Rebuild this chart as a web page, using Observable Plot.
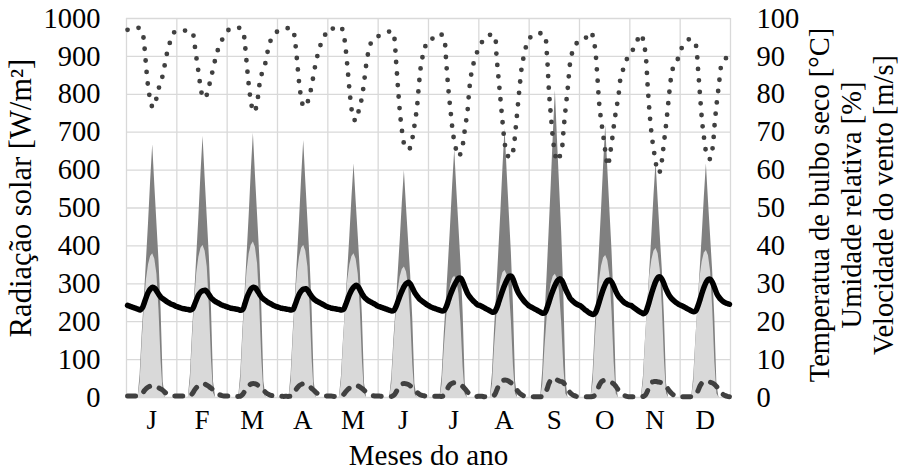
<!DOCTYPE html>
<html><head><meta charset="utf-8">
<script src="https://cdn.jsdelivr.net/npm/d3@7"></script>
<script src="https://cdn.jsdelivr.net/npm/@observablehq/plot@0.6"></script>
<style>
body{margin:0;background:#fff}
svg, svg text{font-family:"Liberation Serif","Times New Roman",serif !important;}
</style>
</head><body><div id="chart"></div>
<script>
const months = ["J","F","M","A","M","J","J","A","S","O","N","D"];
const leftTicks = [0,100,200,300,400,500,600,700,800,900,1000];
const rightTicks = [0,10,20,30,40,50,60,70,80,90,100];
const leftTitle = "Radiação solar [W/m²]";
const rightTitle = "Temperatua de bulbo seco [°C]\nUmidade relativa [%]\nVelocidade do vento [m/s]";
const xTitle = "Meses do ano";

// hourly profiles (hours 0..23) per month
const radGlobal = [
 [0,0,0,0,0,0,60,170,260,360,460,570,667,560,460,360,230,40,0,0,0,0,0,0],
 [0,0,0,0,0,0,62,176,269,372,475,589,689,579,475,372,238,41,0,0,0,0,0,0],
 [0,0,0,0,0,0,63,178,272,376,481,596,697,585,481,376,240,42,0,0,0,0,0,0],
 [0,0,0,0,0,0,61,173,264,366,467,579,678,569,467,366,234,41,0,0,0,0,0,0],
 [0,0,0,0,0,0,56,157,241,333,426,527,617,518,426,333,213,37,0,0,0,0,0,0],
 [0,0,0,0,0,0,54,153,233,323,413,512,599,503,413,323,207,36,0,0,0,0,0,0],
 [0,0,0,0,0,0,59,167,255,353,451,559,654,549,451,353,226,39,0,0,0,0,0,0],
 [0,0,0,0,0,0,64,181,276,383,489,606,709,595,489,383,244,43,0,0,0,0,0,0],
 [0,0,0,0,0,0,73,206,316,437,559,692,810,680,559,437,279,49,0,0,0,0,0,0],
 [0,0,0,0,0,0,65,183,280,387,495,613,718,603,495,387,248,43,0,0,0,0,0,0],
 [0,0,0,0,0,0,56,158,242,335,428,531,621,521,428,335,214,37,0,0,0,0,0,0],
 [0,0,0,0,0,0,56,157,241,333,426,527,617,518,426,333,213,37,0,0,0,0,0,0]
];
const radDiffuse = [
 [0,0,0,0,0,0,40,150,240,310,350,372,379,365,325,230,95,10,0,0,0,0,0,0],
 [0,0,0,0,0,0,42,159,254,328,370,394,401,386,344,243,101,11,0,0,0,0,0,0],
 [0,0,0,0,0,0,43,162,260,335,379,402,410,395,352,249,103,11,0,0,0,0,0,0],
 [0,0,0,0,0,0,42,159,254,328,370,394,401,386,344,243,101,11,0,0,0,0,0,0],
 [0,0,0,0,0,0,40,150,240,310,350,372,379,365,325,230,95,10,0,0,0,0,0,0],
 [0,0,0,0,0,0,36,136,218,281,318,338,344,331,295,209,86,9,0,0,0,0,0,0],
 [0,0,0,0,0,0,34,127,203,262,295,314,320,308,274,194,80,8,0,0,0,0,0,0],
 [0,0,0,0,0,0,35,133,212,274,309,329,335,323,287,203,84,9,0,0,0,0,0,0],
 [0,0,0,0,0,0,34,129,206,266,300,319,325,313,279,197,82,9,0,0,0,0,0,0],
 [0,0,0,0,0,0,40,148,237,307,346,368,375,361,321,227,94,10,0,0,0,0,0,0],
 [0,0,0,0,0,0,41,156,249,321,363,386,393,379,337,239,99,10,0,0,0,0,0,0],
 [0,0,0,0,0,0,41,154,246,317,358,381,388,374,333,236,97,10,0,0,0,0,0,0]
];
const temperature = [
 [24.3,24.1,23.9,23.7,23.5,23.3,23.1,23.6,25.0,26.6,27.9,28.7,29.1,28.8,28.0,27.1,26.4,26.0,25.6,25.2,24.9,24.6,24.4,24.1],
 [23.9,23.7,23.5,23.4,23.3,23.2,23.1,23.4,24.6,26.0,27.2,27.9,28.2,28.3,27.8,27.0,26.2,25.7,25.3,25.0,24.7,24.4,24.2,24.0],
 [23.8,23.6,23.5,23.4,23.3,23.2,23.0,23.3,24.8,26.5,27.8,28.7,29.1,28.9,28.1,27.2,26.4,25.9,25.5,25.1,24.8,24.5,24.2,24.0],
 [23.8,23.6,23.5,23.4,23.3,23.2,23.1,23.3,24.6,26.1,27.4,28.2,28.6,28.7,28.2,27.3,26.5,25.9,25.5,25.2,24.9,24.6,24.3,24.0],
 [23.8,23.6,23.5,23.4,23.3,23.2,23.1,23.3,24.5,26.0,27.4,28.5,29.2,29.6,29.2,28.2,27.2,26.4,25.9,25.5,25.2,24.9,24.6,24.2],
 [24.0,23.8,23.6,23.4,23.2,23.0,22.8,23.0,24.0,25.5,27.0,28.3,29.4,30.1,30.4,29.8,28.7,27.6,26.8,26.1,25.6,25.2,24.8,24.4],
 [24.1,23.8,23.6,23.4,23.2,23.0,22.8,23.0,24.0,25.6,27.2,28.6,29.8,30.8,31.5,31.4,30.3,28.9,27.6,26.7,26.0,25.4,24.9,24.4],
 [24.3,24.0,23.7,23.4,23.1,22.8,22.5,22.6,23.6,25.2,26.9,28.5,29.9,31.1,32.0,32.0,31.0,29.4,28.0,27.0,26.2,25.5,24.9,24.4],
 [24.0,23.7,23.4,23.1,22.8,22.5,22.2,22.4,23.6,25.3,27.0,28.5,29.8,30.8,31.3,30.9,29.8,28.4,27.3,26.2,25.6,25.1,24.7,24.4],
 [24.2,23.7,23.2,22.8,22.4,22.1,21.9,22.3,23.6,25.4,27.2,28.8,30.1,30.9,31.0,30.3,29.1,27.8,26.8,26.1,25.5,25.0,24.7,24.4],
 [24.3,23.9,23.5,23.1,22.7,22.4,22.1,22.5,23.9,25.8,27.7,29.4,30.8,31.7,31.8,31.0,29.7,28.3,27.2,26.4,25.8,25.3,24.9,24.5],
 [24.3,24.0,23.7,23.4,23.1,22.8,22.6,22.9,24.2,25.9,27.7,29.3,30.5,31.2,31.1,30.2,28.8,27.4,26.5,25.8,25.3,25.0,24.8,24.6]
];
const humidity = [
 [97.0,97.2,97.4,97.6,97.7,97.6,97.3,96.6,92.8,86.4,81.2,78.2,76.5,77.4,79.5,81.8,83.4,85.6,88.6,91.3,93.3,95.0,96.2,96.7],
 [96.6,96.7,96.7,96.8,96.8,96.8,96.8,96.3,93.0,89.0,85.2,81.2,79.2,78.9,80.3,82.5,84.8,87.3,89.6,91.6,93.0,94.3,95.2,95.8],
 [96.9,97.3,97.5,97.7,97.7,97.6,97.3,96.8,93.0,87.0,81.5,77.5,75.3,76.0,78.6,82.9,85.4,86.6,89.0,91.8,93.8,95.4,96.0,96.4],
 [96.8,96.8,97.0,97.2,97.4,97.5,97.5,96.8,93.4,87.8,82.1,78.5,76.6,77.0,78.2,80.2,82.8,86.2,88.8,91.3,93.0,94.5,95.5,96.3],
 [96.0,96.8,97.4,97.7,97.9,98.0,97.6,96.0,92.0,86.3,80.1,75.5,73.4,73.0,75.2,77.2,80.0,84.2,88.6,91.6,93.5,94.5,95.0,95.3],
 [95.4,95.7,96.0,96.2,96.4,96.6,96.7,95.5,89.0,81.3,74.5,69.8,66.6,65.6,65.4,66.2,68.9,72.5,76.5,82.9,88.0,90.7,92.7,93.5],
 [93.4,94.4,95.1,95.6,96.0,96.0,95.6,94.6,88.0,81.2,75.7,70.5,67.0,64.8,63.6,64.8,67.2,71.5,75.0,81.5,85.7,88.2,90.2,91.5],
 [92.6,93.8,94.8,95.4,95.6,95.7,95.8,95.5,89.6,83.6,77.6,71.6,66.5,64.2,63.3,63.4,65.5,70.6,76.4,82.2,87.3,90.2,92.6,94.5],
 [95.0,95.6,96.0,96.1,96.1,96.1,96.0,95.5,90.2,80.3,73.5,67.5,63.8,62.3,63.5,65.2,71.3,76.9,82.2,88.2,91.0,92.7,93.4,93.8],
 [93.9,94.0,94.5,95.3,96.0,96.5,95.0,91.8,84.8,76.9,72.4,68.4,64.2,61.0,64.0,67.8,72.2,76.0,79.2,84.0,86.0,87.8,89.2,90.3],
 [90.5,91.8,93.0,94.2,95.2,95.9,93.8,90.7,82.2,74.5,68.9,65.0,61.5,59.2,59.8,63.6,68.3,73.1,78.6,83.8,86.8,88.2,88.8,90.6],
 [92.0,92.8,93.6,94.4,94.5,94.4,94.3,93.0,86.8,79.5,72.6,68.0,64.4,63.0,63.0,66.0,72.5,78.0,82.6,87.3,88.6,89.3,90.0,90.6]
];
const windSpeed = [
 [0.4,0.4,0.4,0.4,0.4,0.4,0.5,1.0,1.8,2.4,2.8,3.0,3.1,3.0,2.8,2.5,2.2,1.8,1.3,0.9,0.6,0.5,0.4,0.4],
 [0.4,0.4,0.4,0.4,0.4,0.4,0.5,1.1,2.0,2.7,3.2,3.5,3.6,3.5,3.2,2.8,2.4,1.9,1.4,1.0,0.7,0.5,0.4,0.4],
 [0.4,0.4,0.3,0.3,0.3,0.3,0.4,0.9,1.8,2.6,3.2,3.6,3.7,3.6,3.3,2.8,2.3,1.8,1.3,0.9,0.6,0.5,0.4,0.4],
 [0.4,0.4,0.3,0.3,0.3,0.3,0.4,0.9,1.8,2.6,3.2,3.5,3.6,3.5,3.2,2.8,2.3,1.8,1.3,0.9,0.6,0.5,0.4,0.4],
 [0.4,0.4,0.3,0.3,0.3,0.3,0.4,0.8,1.5,2.1,2.6,2.9,3.1,3.1,3.0,2.7,2.3,1.8,1.3,0.9,0.6,0.5,0.4,0.4],
 [0.4,0.3,0.3,0.3,0.3,0.3,0.3,0.6,1.4,2.4,3.2,3.6,3.7,3.6,3.4,3.0,2.6,2.0,1.4,0.9,0.6,0.5,0.4,0.4],
 [0.3,0.3,0.3,0.3,0.3,0.3,0.3,0.6,1.6,2.8,3.5,3.8,3.9,3.8,3.6,3.3,2.8,2.2,1.5,1.0,0.6,0.4,0.3,0.3],
 [0.3,0.3,0.2,0.2,0.2,0.2,0.3,0.7,1.9,3.2,4.1,4.5,4.6,4.5,4.2,3.8,3.2,2.5,1.7,1.1,0.7,0.4,0.3,0.3],
 [0.3,0.2,0.2,0.2,0.2,0.2,0.3,0.8,2.2,3.8,4.8,5.1,5.0,4.6,4.3,4.2,3.8,3.0,2.1,1.3,0.8,0.5,0.3,0.3],
 [0.2,0.2,0.2,0.2,0.2,0.2,0.3,0.7,1.9,3.3,4.2,4.5,4.5,4.3,4.1,3.9,3.5,2.8,2.0,1.3,0.8,0.5,0.3,0.2],
 [0.2,0.2,0.2,0.2,0.2,0.2,0.3,0.7,1.8,3.1,4.0,4.2,4.2,4.1,4.0,3.8,3.4,2.8,2.0,1.3,0.8,0.5,0.3,0.2],
 [0.2,0.2,0.2,0.2,0.2,0.2,0.3,0.7,1.8,3.1,3.9,4.2,4.2,4.1,4.0,3.8,3.4,2.8,2.0,1.3,0.8,0.5,0.3,0.2]
];

// build table: one row per hour, x in hours since Jan 1 (category centre)
const rows = [];
months.forEach((m, mi) => {
  for (let h = 0; h < 24; h++) {
    rows.push({
      x: mi * 24 + h + 0.5,
      dark: radGlobal[mi][h],
      light: radDiffuse[mi][h],
      temp: temperature[mi][h] * 10,   // right axis (0–100) shares the 0–1000 scale
      rh: humidity[mi][h] * 10,
      wind: windSpeed[mi][h] * 10
    });
  }
});
const monthEdges = d3.range(0, 13).map(i => i * 24);
const monthCenters = months.map((m, i) => i * 24 + 12);
const FONT = "Liberation Serif";

const chart = Plot.plot({
  width: 899, height: 472,
  marginLeft: 126, marginRight: 169, marginTop: 18, marginBottom: 75,
  style: {fontFamily: FONT, fontSize: "28px", background: "#fff", color: "#000"},
  x: {domain: [0, 288]},
  y: {domain: [0, 1000]},
  marks: [
    Plot.gridY(leftTicks, {stroke: "#d9d9d9", strokeOpacity: 1, strokeWidth: 1.3}),
    Plot.gridX(monthEdges, {stroke: "#d9d9d9", strokeOpacity: 1, strokeWidth: 1.3}),
    Plot.areaY(rows, {x: "x", y: "dark", fill: "#808080"}),
    Plot.areaY(rows, {x: "x", y: "light", fill: "#d9d9d9"}),
    Plot.line(rows, {x: "x", y: "wind", stroke: "#404040", strokeWidth: 5, strokeDasharray: "8,10", strokeLinecap: "round", curve: "catmull-rom"}),
    Plot.line(rows, {x: "x", y: "temp", stroke: "#000", strokeWidth: 5.5, curve: "catmull-rom"}),
    Plot.line(rows, {x: "x", y: "rh", stroke: "#404040", strokeWidth: 4.8, strokeDasharray: "0,11.5", strokeLinecap: "round", curve: "catmull-rom"}),
    Plot.axisY(leftTicks, {anchor: "left", tickSize: 0, tickPadding: 26, fontSize: 28.5, fontFamily: FONT, fontVariant: "normal", tickFormat: d => String(d), label: null}),
    Plot.axisY(leftTicks, {anchor: "right", tickSize: 0, tickPadding: 26, fontSize: 28.5, fontFamily: FONT, fontVariant: "normal", tickFormat: d => String(rightTicks[leftTicks.indexOf(d)]), label: null}),
    Plot.axisX(monthCenters, {anchor: "bottom", tickSize: 0, tickPadding: 12, fontSize: 27, fontFamily: FONT, tickFormat: d => months[Math.floor(d / 24)], label: null}),
    Plot.text([leftTitle], {text: d => d, frameAnchor: "left", dx: -105, dy: -10, rotate: -90, textAnchor: "middle", lineAnchor: "middle", fontSize: 30.5, fontFamily: FONT}),
    Plot.text([rightTitle], {text: d => d, frameAnchor: "right", dx: 120, dy: -3, rotate: -90, textAnchor: "middle", lineAnchor: "middle", lineHeight: 1.12, fontSize: 28.5, fontFamily: FONT}),
    Plot.text([xTitle], {text: d => d, frameAnchor: "bottom", dy: 58, textAnchor: "middle", lineAnchor: "middle", fontSize: 29, fontFamily: FONT})
  ]
});
document.getElementById("chart").appendChild(chart);
</script>
</body></html>
